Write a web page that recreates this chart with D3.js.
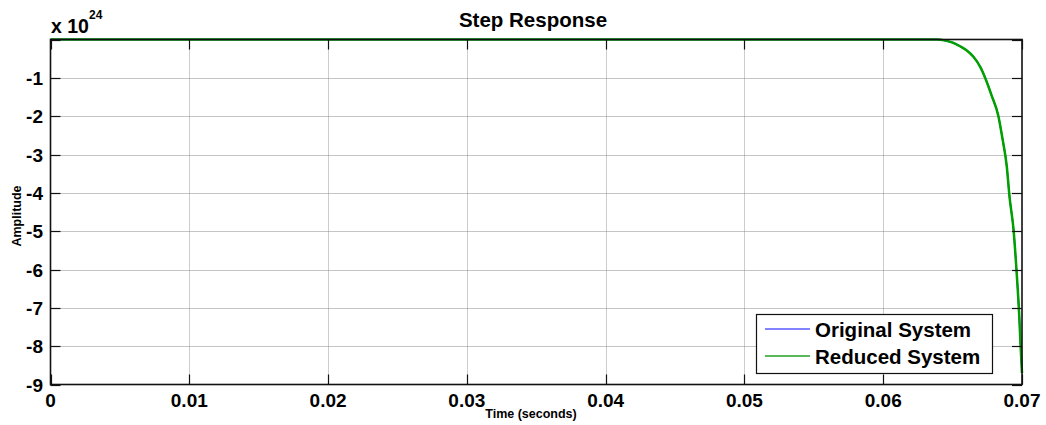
<!DOCTYPE html>
<html>
<head>
<meta charset="utf-8">
<script src="https://cdn.jsdelivr.net/npm/d3@7"></script>
<style>
html,body{margin:0;padding:0;background:#fff;}
svg{display:block;font-family:"Liberation Sans",Arial,sans-serif;}
</style>
</head>
<body>
<svg id="chart" width="1046" height="425"></svg>
<script>
// ---- data (amplitude in units of 1e24) ----
const timeValues = [0, 0.01, 0.02, 0.03, 0.04, 0.05, 0.06, 0.0639, 0.0645, 0.0650, 0.0655, 0.0660, 0.0665, 0.0670, 0.0674, 0.0678, 0.0683, 0.0686, 0.0689, 0.0691, 0.0694, 0.0696, 0.0698, 0.0699, 0.0700];
const originalSystem = [0, 0, 0, 0, 0, 0, 0, 0, -0.03, -0.08, -0.17, -0.28, -0.45, -0.72, -1.05, -1.45, -2.0, -2.6, -3.3, -4.1, -5.0, -6.0, -7.2, -8.0, -8.7];
const reducedSystem  = [0, 0, 0, 0, 0, 0, 0, 0, -0.03, -0.08, -0.17, -0.28, -0.45, -0.72, -1.05, -1.45, -2.0, -2.6, -3.3, -4.1, -5.0, -6.0, -7.2, -8.0, -8.7];
const xTickValues = [0, 0.01, 0.02, 0.03, 0.04, 0.05, 0.06, 0.07];
const xTickLabels = ["0", "0.01", "0.02", "0.03", "0.04", "0.05", "0.06", "0.07"];
const yTickValues = [0, -1, -2, -3, -4, -5, -6, -7, -8, -9];
const yTickLabels = ["", "-1", "-2", "-3", "-4", "-5", "-6", "-7", "-8", "-9"];
const seriesNames = ["Original System", "Reduced System"];
const seriesColors = ["#0000ff", "#00a000"];
const legendColors = ["#5a5aff", "#22a022"];

const svg = d3.select("#chart");
const L = 50.5, R = 1022, T = 39.5, B = 384.5;
const x = d3.scaleLinear().domain([0, 0.07]).range([L, R]);
const y = d3.scaleLinear().domain([-9, 0]).range([B, T]);

// grid
const grid = svg.append("g");
grid.selectAll("line.vg").data(xTickValues.slice(1, -1)).enter().append("line")
  .attr("x1", d => Math.round(x(d)) + 0.5).attr("x2", d => Math.round(x(d)) + 0.5)
  .attr("y1", T).attr("y2", B)
  .attr("stroke", "#999").attr("stroke-width", 1).attr("stroke-dasharray", "1,1");
grid.selectAll("line.hg").data(yTickValues.slice(1, -1)).enter().append("line")
  .attr("y1", d => Math.round(y(d)) + 0.5).attr("y2", d => Math.round(y(d)) + 0.5)
  .attr("x1", L).attr("x2", R)
  .attr("stroke", "#888").attr("stroke-width", 1).attr("stroke-dasharray", "1,1");

// curves
const line = d3.line().x((d, i) => x(timeValues[i])).y(d => y(d)).curve(d3.curveMonotoneX);
svg.append("path").datum(originalSystem).attr("d", line)
  .attr("fill", "none").attr("stroke", seriesColors[0]).attr("stroke-width", 1.5);
svg.append("path").datum(reducedSystem).attr("d", line)
  .attr("fill", "none").attr("stroke", seriesColors[1]).attr("stroke-width", 2.5)
  .attr("stroke-linejoin", "round");

// axes box
svg.append("rect").attr("x", L).attr("y", T).attr("width", R - L).attr("height", B - T)
  .attr("fill", "none").attr("stroke", "#111").attr("stroke-width", 1.6);

// ticks
const tk = svg.append("g").attr("stroke", "#111").attr("stroke-width", 1.2);
xTickValues.forEach(v => {
  const px = Math.round(x(v)) + 0.5;
  tk.append("line").attr("x1", px).attr("x2", px).attr("y1", B).attr("y2", B - 10);
  tk.append("line").attr("x1", px).attr("x2", px).attr("y1", T).attr("y2", T + 10);
});
yTickValues.forEach(v => {
  const py = Math.round(y(v)) + 0.5;
  tk.append("line").attr("y1", py).attr("y2", py).attr("x1", L).attr("x2", L + 10);
  tk.append("line").attr("y1", py).attr("y2", py).attr("x1", R).attr("x2", R - 10);
});

// tick labels
svg.append("g").selectAll("text").data(xTickValues).enter().append("text")
  .attr("x", d => x(d)).attr("y", 407)
  .attr("text-anchor", "middle").attr("font-size", 19).attr("font-weight", "bold")
  .text((d, i) => xTickLabels[i]);
svg.append("g").selectAll("text").data(yTickValues).enter().append("text")
  .attr("x", 43).attr("y", d => y(d) + 7)
  .attr("text-anchor", "end").attr("font-size", 19).attr("font-weight", "bold")
  .text((d, i) => yTickLabels[i]);

// exponent
const ex = svg.append("text").attr("x", 51).attr("y", 33).attr("font-size", 19.5).attr("font-weight", "bold");
ex.append("tspan").text("x 10");
ex.append("tspan").attr("font-size", 12).attr("dy", -14).text("24");

// title and axis labels
svg.append("text").attr("x", 533).attr("y", 27).attr("text-anchor", "middle")
  .attr("font-size", 20.5).attr("font-weight", "bold").text("Step Response");
svg.append("text").attr("x", 531).attr("y", 418).attr("text-anchor", "middle")
  .attr("font-size", 12.5).attr("font-weight", "bold").text("Time (seconds)");
svg.append("text").attr("transform", "translate(21,216) rotate(-90)").attr("text-anchor", "middle")
  .attr("font-size", 12.5).attr("font-weight", "bold").text("Amplitude");

// legend
const lg = svg.append("g");
lg.append("rect").attr("x", 756.5).attr("y", 314.5).attr("width", 236).attr("height", 59)
  .attr("fill", "#fff").attr("stroke", "#111").attr("stroke-width", 1.2);
seriesNames.forEach((name, i) => {
  const cy = 329 + i * 27;
  lg.append("line").attr("x1", 765).attr("x2", 810).attr("y1", cy).attr("y2", cy)
    .attr("stroke", legendColors[i]).attr("stroke-width", 1.5);
  lg.append("text").attr("x", 815).attr("y", cy + 8).attr("font-size", 20.5).attr("font-weight", "bold").text(name);
});
</script>
</body>
</html>
